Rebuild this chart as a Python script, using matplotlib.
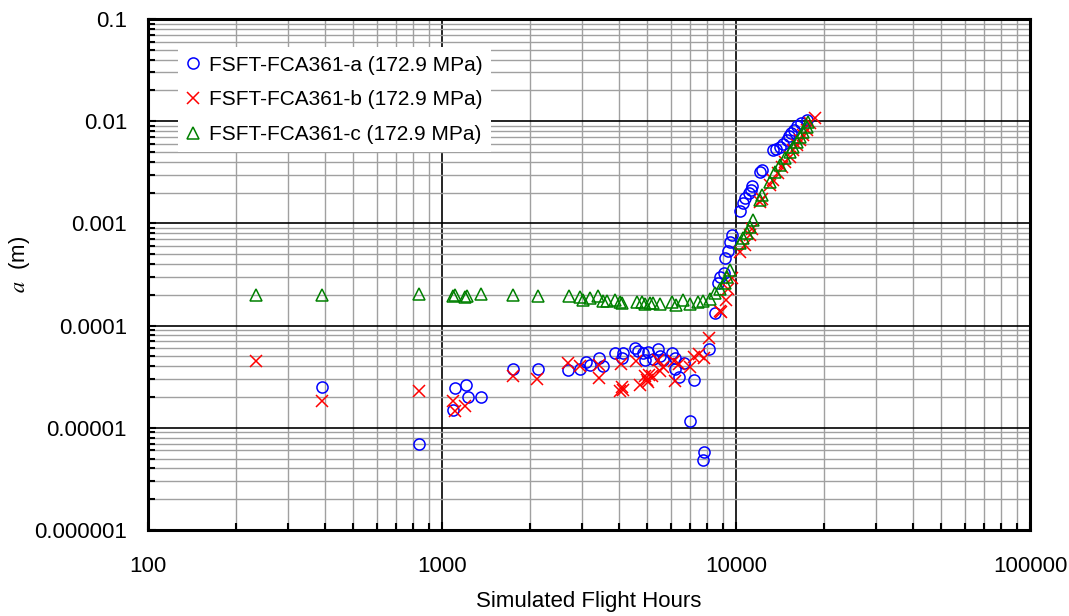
import numpy as np
import matplotlib.pyplot as plt
from matplotlib.ticker import FixedLocator, FixedFormatter, LogLocator, NullFormatter

plt.rcParams['font.family'] = ['Liberation Sans', 'DejaVu Sans']
plt.rcParams['mathtext.fontset'] = 'stix'

# FSFT-FCA361-a (circles)
hours_a = [391, 835, 1090, 1107, 1210, 1230, 1360, 1750, 2120, 2680, 2950, 3090, 3180,
           3430, 3540, 3870, 4090, 4140, 4520, 4640, 4830, 4900, 5030, 5230, 5440, 5510,
           5630, 6040, 6200, 6200, 6390, 6680, 6960, 7200, 7720, 7770, 8090, 8470, 8700,
           8790, 9090, 9210, 9380, 9550, 9670, 10330, 10550, 10770, 11050, 11250, 11380,
           12110, 12300, 13390, 13700, 14120, 14500, 14880, 15170, 15420, 15810, 16100,
           16590, 17380]
crack_a = [2.5e-5, 7.0e-6, 1.5e-5, 2.47e-5, 2.62e-5, 2.02e-5, 2.02e-5, 3.73e-5, 3.8e-5,
           3.7e-5, 3.73e-5, 4.4e-5, 4.1e-5, 4.8e-5, 4.0e-5, 5.36e-5, 4.8e-5, 5.36e-5,
           6.0e-5, 5.7e-5, 5.36e-5, 4.6e-5, 5.55e-5, 4.68e-5, 5.9e-5, 5.0e-5, 4.64e-5,
           5.36e-5, 4.8e-5, 3.73e-5, 3.13e-5, 4.3e-5, 1.17e-5, 2.94e-5, 4.84e-6, 5.84e-6,
           5.9e-5, 1.32e-4, 2.6e-4, 3.0e-4, 3.25e-4, 4.55e-4, 5.4e-4, 6.6e-4, 7.7e-4,
           1.33e-3, 1.57e-3, 1.76e-3, 1.98e-3, 2.1e-3, 2.3e-3, 3.2e-3, 3.3e-3, 5.2e-3,
           5.4e-3, 5.6e-3, 6.0e-3, 6.6e-3, 7.1e-3, 7.6e-3, 8.2e-3, 9.0e-3, 9.5e-3, 1.03e-2]

# FSFT-FCA361-b (crosses)
hours_b = [233, 391, 835, 1090, 1110, 1200, 1750, 2110, 2680, 2950, 3430, 3430, 4050,
           4030, 4090, 4120, 4570, 4720, 4900, 4980, 5030, 5080, 5170, 5440, 5520, 5640,
           6160, 6200, 6400, 6960, 7200, 7500, 7770, 8090, 8790, 8870, 9230, 9380, 9690,
           10320, 10720, 11160, 11380, 12070, 12300, 13050, 13390, 13940, 14310, 14690,
           15270, 15680, 16080, 16520, 16950, 17380, 17840, 18540]
crack_b = [4.54e-5, 1.83e-5, 2.3e-5, 1.83e-5, 1.45e-5, 1.63e-5, 3.2e-5, 3.0e-5, 4.34e-5,
           4.0e-5, 4.1e-5, 3.1e-5, 4.2e-5, 2.27e-5, 2.52e-5, 2.33e-5, 4.5e-5, 2.6e-5,
           3.2e-5, 2.95e-5, 2.8e-5, 3.3e-5, 3.2e-5, 4.64e-5, 3.6e-5, 3.9e-5, 4.5e-5,
           2.85e-5, 4.2e-5, 3.9e-5, 4.9e-5, 5.3e-5, 4.8e-5, 7.5e-5, 1.4e-4, 1.35e-4,
           1.8e-4, 2.3e-4, 2.9e-4, 5.3e-4, 6.1e-4, 7.7e-4, 8.9e-4, 1.63e-3, 1.75e-3,
           2.38e-3, 2.67e-3, 3.1e-3, 3.6e-3, 4.0e-3, 4.5e-3, 5.2e-3, 5.85e-3, 6.5e-3,
           7.3e-3, 8.2e-3, 9.5e-3, 1.07e-2]

# FSFT-FCA361-c (triangles)
hours_c = [233, 391, 835, 1090, 1110, 1200, 1217, 1360, 1742, 2122, 2705, 2950, 3020,
           3185, 3390, 3521, 3630, 3875, 4030, 4086, 4594, 4778, 4900, 5096, 5220, 5510,
           6040, 6250, 6600, 6980, 7430, 7730, 8160, 8490, 8830, 9180, 9300, 9550, 10320,
           10570, 10870, 11160, 11420, 12070, 12300, 13050, 13570, 14120, 14690, 15270,
           15630, 16080, 16520, 16910, 17380, 17580]
crack_c = [2.0e-4, 2.0e-4, 2.05e-4, 1.95e-4, 2.0e-4, 1.92e-4, 1.95e-4, 2.02e-4, 2.0e-4,
           1.95e-4, 1.95e-4, 1.9e-4, 1.8e-4, 1.85e-4, 1.95e-4, 1.75e-4, 1.75e-4, 1.78e-4,
           1.7e-4, 1.66e-4, 1.72e-4, 1.72e-4, 1.63e-4, 1.68e-4, 1.66e-4, 1.63e-4, 1.72e-4,
           1.59e-4, 1.8e-4, 1.63e-4, 1.72e-4, 1.75e-4, 1.84e-4, 2.08e-4, 2.28e-4, 2.6e-4,
           3.0e-4, 3.5e-4, 6.4e-4, 7.2e-4, 8.05e-4, 9.3e-4, 1.08e-3, 1.69e-3, 1.9e-3,
           2.56e-3, 3.2e-3, 3.7e-3, 4.4e-3, 5.0e-3, 5.6e-3, 6.3e-3, 7.05e-3, 7.9e-3,
           8.8e-3, 9.9e-3]

labels = ['FSFT-FCA361-a (172.9 MPa)', 'FSFT-FCA361-b (172.9 MPa)', 'FSFT-FCA361-c (172.9 MPa)']
x_ticks = [100, 1000, 10000, 100000]
x_ticklabels = ['100', '1000', '10000', '100000']
y_ticks = [1e-6, 1e-5, 1e-4, 1e-3, 1e-2, 1e-1]
y_ticklabels = ['0.000001', '0.00001', '0.0001', '0.001', '0.01', '0.1']

fs = 16

fig = plt.figure(figsize=(10.69, 6.16), dpi=100)
ax = fig.add_axes([0.1384, 0.1396, 0.8251, 0.8296])

ax.plot(hours_a, crack_a, 'o', ms=8, mfc='none', mec='#0000ff', mew=1.1, label=labels[0], zorder=3)
ax.plot(hours_b, crack_b, 'x', ms=8, color='#ff0000', mew=1.1, label=labels[1], zorder=3)
ax.plot(hours_c, crack_c, '^', ms=8, mfc='none', mec='#008000', mew=1.1, label=labels[2], zorder=3)

ax.set_xscale('log')
ax.set_yscale('log')
ax.set_xlim(100, 100000)
ax.set_ylim(1e-6, 0.1)

ax.xaxis.set_major_locator(FixedLocator(x_ticks))
ax.xaxis.set_major_formatter(FixedFormatter(x_ticklabels))
ax.yaxis.set_major_locator(FixedLocator(y_ticks))
ax.yaxis.set_major_formatter(FixedFormatter(y_ticklabels))
ax.xaxis.set_minor_locator(LogLocator(base=10, subs=np.arange(2, 10)))
ax.yaxis.set_minor_locator(LogLocator(base=10, subs=np.arange(2, 10)))
ax.xaxis.set_minor_formatter(NullFormatter())
ax.yaxis.set_minor_formatter(NullFormatter())

ax.grid(which='major', color='black', lw=1.2)
ax.grid(which='minor', color='#a0a0a0', lw=1.0)
ax.set_axisbelow(True)

ax.tick_params(which='both', direction='in', color='black', labelsize=fs)
ax.tick_params(which='major', length=6, width=1.5)
ax.tick_params(which='minor', length=5, width=1.5)
ax.tick_params(axis='x', pad=19)
ax.tick_params(axis='y', pad=15)
ax.tick_params(top=False, right=False)

for s in ax.spines.values():
    s.set_linewidth(2.2)
    s.set_color('black')

ax.set_xlabel('Simulated Flight Hours', fontsize=fs, labelpad=10)
ax.set_ylabel(r'$a$  (m)', fontsize=fs)
ax.yaxis.set_label_coords(-0.132, 0.52)

leg = ax.legend(loc='upper left', bbox_to_anchor=(0.022, 0.965), fontsize=15, frameon=True,
                fancybox=False, framealpha=1, edgecolor='none', facecolor='white',
                handlelength=0.7, handletextpad=0.4, labelspacing=0.75, borderpad=0.4)

fig.savefig('out.png', dpi=100)
